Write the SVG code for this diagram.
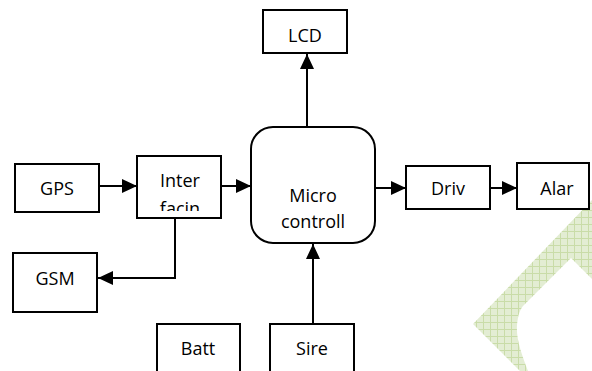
<svg xmlns="http://www.w3.org/2000/svg" width="592" height="371" viewBox="0 0 592 371">
<style>
.box{fill:#fff;stroke:#000;stroke-width:2}
.t{font-family:"Open Sans","Noto Sans",sans-serif;font-size:18px;fill:#000;text-anchor:middle}
.c{fill:none;stroke:#000;stroke-width:2}
</style>
<defs>
<marker id="ah" viewBox="0 0 15 14" refX="15" refY="7" markerWidth="15" markerHeight="14" markerUnits="userSpaceOnUse" orient="auto">
<path d="M0,0 L15,7 L0,14 Z" fill="#000"/>
</marker>
<pattern id="hatch" width="7" height="7" patternUnits="userSpaceOnUse">
<rect width="7" height="7" fill="#e3edd3"/>
<path d="M0,0.5 H7 M0.5,0 V7" stroke="#c9dca8" stroke-width="1"/>
</pattern>
<clipPath id="clipInter"><rect x="137" y="156" width="84" height="55"/></clipPath>
</defs>
<rect width="592" height="371" fill="#fff"/>
<path d="M592,200 L473,324 L520,371 L528,371 C522,355 516,340 517,325 C518,315 520,309 524,305 L571,258 L592,279 Z" fill="url(#hatch)"/>
<g id="connectors">
<line class="c" x1="99" y1="186" x2="137" y2="186" marker-end="url(#ah)"/>
<line class="c" x1="221" y1="186" x2="251" y2="186" marker-end="url(#ah)"/>
<line class="c" x1="307" y1="127" x2="307" y2="54" marker-end="url(#ah)"/>
<line class="c" x1="375" y1="188" x2="406" y2="188" marker-end="url(#ah)"/>
<line class="c" x1="490" y1="188" x2="517" y2="188" marker-end="url(#ah)"/>
<polyline class="c" points="175,218 175,278 98,278" marker-end="url(#ah)"/>
<line class="c" x1="313" y1="324" x2="313" y2="244" marker-end="url(#ah)"/>
</g>
<g id="lcd"><rect class="box" x="263" y="10" width="84" height="43"/><text class="t" x="305" y="42">LCD</text></g>
<g id="micro"><rect class="box" x="251" y="127" width="124" height="116" rx="22" ry="22"/><text class="t" x="313" y="202">Micro</text><text class="t" x="313" y="228">controll</text></g>
<g id="gps"><rect class="box" x="15" y="164" width="84" height="48"/><text class="t" x="57" y="195">GPS</text></g>
<g id="interfacing"><rect class="box" x="137" y="156" width="84" height="62"/><g clip-path="url(#clipInter)"><text class="t" x="180" y="187">Inter</text><text class="t" x="180" y="215">facin</text></g></g>
<g id="driv"><rect class="box" x="406" y="166" width="84" height="43"/><text class="t" x="448" y="195">Driv</text></g>
<g id="alar"><rect class="box" x="517" y="163" width="72" height="46"/><text class="t" x="557" y="195">Alar</text></g>
<g id="gsm"><rect class="box" x="13" y="253" width="84" height="59"/><text class="t" x="55" y="285">GSM</text></g>
<g id="batt"><rect class="box" x="157" y="324" width="83" height="60"/><text class="t" x="198" y="355">Batt</text></g>
<g id="sire"><rect class="box" x="270" y="324" width="84" height="60"/><text class="t" x="312" y="355">Sire</text></g>
</svg>
